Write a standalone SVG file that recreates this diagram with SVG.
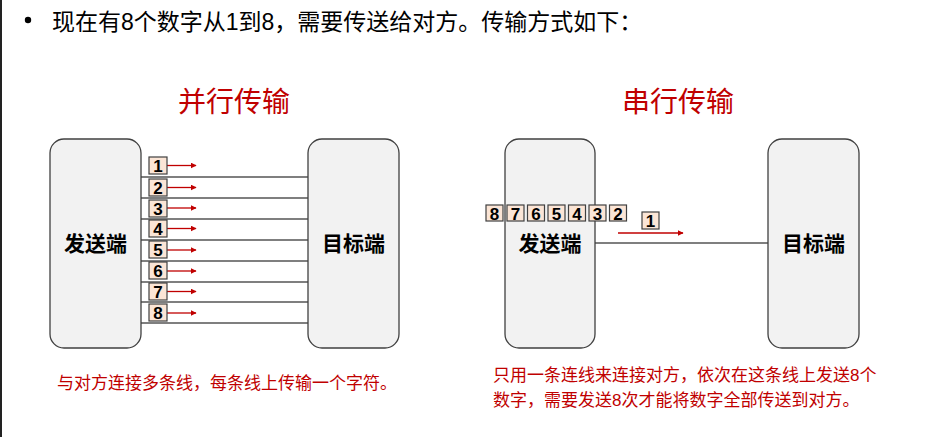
<svg xmlns="http://www.w3.org/2000/svg" width="944" height="437" viewBox="0 0 944 437">
<defs>
<style>
.box{fill:#f2f2f2;stroke:#404040;stroke-width:1.3}
.lbl{font-family:"Liberation Sans","Noto Sans CJK SC",sans-serif;font-weight:bold;font-size:21px;fill:#000;text-anchor:middle;dominant-baseline:central}
.title{font-family:"Liberation Sans","Noto Sans CJK SC",sans-serif;font-size:28px;fill:#c00000;text-anchor:middle}
.note{font-family:"Liberation Sans","Noto Sans CJK SC",sans-serif;font-size:17px;fill:#c00000}
.num rect{fill:#fbe5d6;stroke:#404040;stroke-width:1.2}
.num text{font-family:"Liberation Sans",sans-serif;font-weight:bold;font-size:17px;fill:#000;text-anchor:middle}
.wire{stroke:#000;stroke-width:1.2}
.red{stroke:#c00000;stroke-width:1.3;marker-end:url(#ah)}
</style>
<marker id="ah" viewBox="0 0 10 10" refX="9" refY="5" markerWidth="6" markerHeight="6" orient="auto" markerUnits="userSpaceOnUse">
<path d="M0,0L10,5L0,10z" fill="#c00000"/>
</marker>
</defs>
<rect width="944" height="437" fill="#fff"/>
<line x1="1" y1="0" x2="1" y2="437" stroke="#222" stroke-width="2"/>
<circle cx="28" cy="20" r="3.2" fill="#000"/>
<text x="52" y="30" font-family="Liberation Sans,'Noto Sans CJK SC',sans-serif" font-size="23" fill="#000">现在有8个数字从1到8，需要传送给对方。传输方式如下：</text>

<text class="title" x="234" y="112">并行传输</text>
<text class="title" x="678" y="112">串行传输</text>

<g id="connectors">
<line class="wire" x1="141" y1="177" x2="308" y2="177"/>
<line class="wire" x1="141" y1="198" x2="308" y2="198"/>
<line class="wire" x1="141" y1="219" x2="308" y2="219"/>
<line class="wire" x1="141" y1="240" x2="308" y2="240"/>
<line class="wire" x1="141" y1="261" x2="308" y2="261"/>
<line class="wire" x1="141" y1="282" x2="308" y2="282"/>
<line class="wire" x1="141" y1="302" x2="308" y2="302"/>
<line class="wire" x1="141" y1="323" x2="308" y2="323"/>
<line class="wire" x1="595" y1="243" x2="768" y2="243"/>
<line class="red" x1="167" y1="165.5" x2="196" y2="165.5"/>
<line class="red" x1="167" y1="187.5" x2="196" y2="187.5"/>
<line class="red" x1="167" y1="208" x2="196" y2="208"/>
<line class="red" x1="167" y1="228.5" x2="196" y2="228.5"/>
<line class="red" x1="167" y1="250" x2="196" y2="250"/>
<line class="red" x1="167" y1="271" x2="196" y2="271"/>
<line class="red" x1="167" y1="291.5" x2="196" y2="291.5"/>
<line class="red" x1="167" y1="313" x2="196" y2="313"/>
<line class="red" x1="618" y1="233" x2="683" y2="233"/>
</g>

<g id="sender-parallel">
<rect class="box" x="50" y="139" width="91" height="209" rx="14"/>
<text class="lbl" x="95.5" y="243">发送端</text>
</g>
<g id="target-parallel">
<rect class="box" x="308" y="139" width="91" height="209" rx="14"/>
<text class="lbl" x="353.5" y="243">目标端</text>
</g>
<g id="sender-serial">
<rect class="box" x="505" y="139" width="90" height="209" rx="14"/>
<text class="lbl" x="550" y="243">发送端</text>
</g>
<g id="target-serial">
<rect class="box" x="768" y="139" width="91" height="209" rx="14"/>
<text class="lbl" x="813.5" y="243">目标端</text>
</g>

<g id="parallel-bits" class="num">
<rect x="149" y="157" width="18" height="17"/><text x="158" y="172">1</text>
<rect x="149" y="179" width="18" height="17"/><text x="158" y="194">2</text>
<rect x="149" y="200" width="18" height="17"/><text x="158" y="215">3</text>
<rect x="149" y="220" width="18" height="17"/><text x="158" y="235">4</text>
<rect x="149" y="241" width="18" height="17"/><text x="158" y="256">5</text>
<rect x="149" y="262" width="18" height="17"/><text x="158" y="277">6</text>
<rect x="149" y="283" width="18" height="17"/><text x="158" y="298">7</text>
<rect x="149" y="304" width="18" height="17"/><text x="158" y="319">8</text>
</g>

<g id="serial-bits" class="num">
<rect x="486" y="205" width="17" height="16"/><text x="494.5" y="219.5">8</text>
<rect x="507" y="205" width="17" height="16"/><text x="515.5" y="219.5">7</text>
<rect x="527.5" y="205" width="17" height="16"/><text x="536" y="219.5">6</text>
<rect x="548" y="205" width="17" height="16"/><text x="556.5" y="219.5">5</text>
<rect x="568.5" y="205" width="17" height="16"/><text x="577" y="219.5">4</text>
<rect x="589" y="205" width="17" height="16"/><text x="597.5" y="219.5">3</text>
<rect x="609.5" y="205" width="17" height="16"/><text x="618" y="219.5">2</text>
<rect x="642" y="212" width="17" height="17"/><text x="650.5" y="227">1</text>
</g>

<text class="note" x="57" y="389">与对方连接多条线，每条线上传输一个字符。</text>
<text class="note" x="493" y="381">只用一条连线来连接对方，依次在这条线上发送8个</text>
<text class="note" x="493" y="406">数字，需要发送8次才能将数字全部传送到对方。</text>
</svg>
